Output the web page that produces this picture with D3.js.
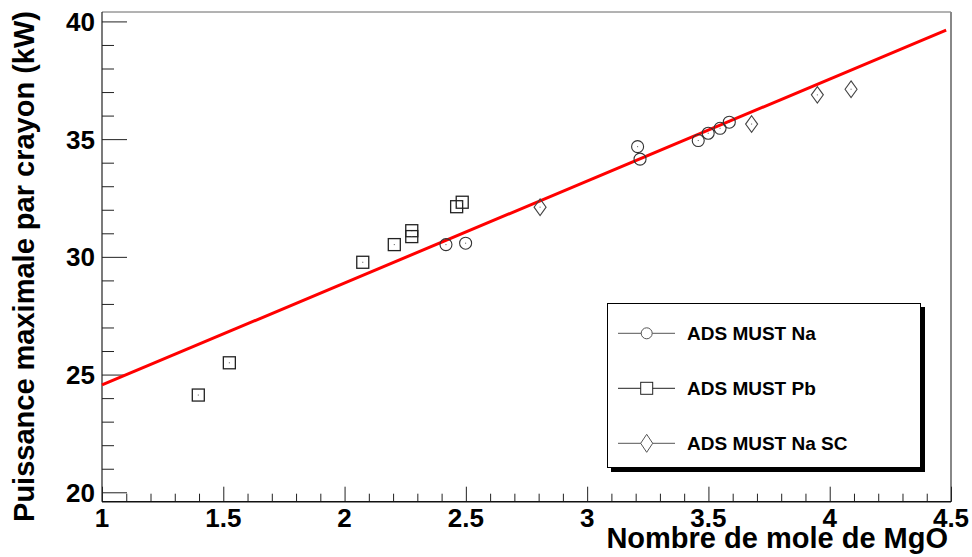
<!DOCTYPE html>
<html><head><meta charset="utf-8">
<script src="https://cdn.jsdelivr.net/npm/d3@7"></script>
<style>
html,body{margin:0;padding:0;background:#fff;}
svg{display:block;font-family:"Liberation Sans",Arial,Helvetica,sans-serif;}
</style></head>
<body>
<svg id="chart" width="972" height="557"></svg>
<script>
// ---- data ----
const naX = [2.418, 2.499, 3.208, 3.218, 3.458, 3.499, 3.548, 3.586];
const naY = [30.52, 30.58, 34.68, 34.15, 34.94, 35.25, 35.46, 35.72];
const pbX = [1.397, 1.525, 2.075, 2.205, 2.277, 2.277, 2.462, 2.485];
const pbY = [24.13, 25.50, 29.77, 30.52, 31.11, 30.86, 32.13, 32.32];
const scX = [2.806, 3.678, 3.949, 4.088];
const scY = [32.11, 35.64, 36.88, 37.12];
const fitX = [1, 4.48];
const fitY = [24.56, 39.63];
const xTicks = [1, 1.5, 2, 2.5, 3, 3.5, 4, 4.5];
const yTicks = [20, 25, 30, 35, 40];
const legendLabels = ["ADS MUST Na", "ADS MUST Pb", "ADS MUST Na SC"];
const xTitle = "Nombre de mole de MgO";
const yTitle = "Puissance maximale par crayon (kW)";

// ---- layout ----
const L = 102, R = 951, T = 12, B = 501.7;
const svg = d3.select("#chart");
const x = d3.scaleLinear().domain([1, 4.5]).range([L, R]);
const y = d3.scaleLinear().domain([19.6, 40.4]).range([B, T]);

// frame (top/right)
svg.append("line").attr("x1", L).attr("x2", R).attr("y1", T).attr("y2", T)
  .attr("stroke", "#666").attr("stroke-width", 1);
svg.append("line").attr("x1", R).attr("x2", R).attr("y1", T).attr("y2", B)
  .attr("stroke", "#888").attr("stroke-width", 2);

// y axis
const yMinor = d3.range(20, 41, 1).filter(v => !yTicks.includes(v));
svg.append("g").attr("transform", `translate(${L},0)`)
  .call(d3.axisRight(y).tickValues(yMinor).tickSize(12).tickFormat(""))
  .call(g => g.select(".domain").remove())
  .call(g => g.selectAll("line").attr("stroke", "#222"));
svg.append("g").attr("transform", `translate(${L},0)`)
  .call(d3.axisRight(y).tickValues(yTicks).tickSize(25).tickFormat(""))
  .call(g => g.select(".domain").remove())
  .call(g => g.selectAll("line").attr("stroke", "#222"));
svg.append("g").selectAll("text").data(yTicks).join("text")
  .attr("x", 95).attr("y", d => y(d) + 9.5)
  .attr("text-anchor", "end").attr("font-size", 26).attr("font-weight", "bold")
  .text(d => d3.format("d")(d));
svg.append("line").attr("x1", L).attr("x2", L).attr("y1", T).attr("y2", B)
  .attr("stroke", "#222").attr("stroke-width", 1.2);

// x axis
const xMinor = d3.range(10, 46, 1).map(v => v / 10).filter(v => !xTicks.some(t => Math.abs(t - v) < 1e-9));
svg.append("g").attr("transform", `translate(0,${B})`)
  .call(d3.axisTop(x).tickValues(xMinor).tickSize(8).tickFormat(""))
  .call(g => g.select(".domain").remove())
  .call(g => g.selectAll("line").attr("stroke", "#222"));
svg.append("g").attr("transform", `translate(0,${B})`)
  .call(d3.axisTop(x).tickValues(xTicks).tickSize(15).tickFormat(""))
  .call(g => g.select(".domain").remove())
  .call(g => g.selectAll("line").attr("stroke", "#222"));
svg.append("g").selectAll("text").data(xTicks).join("text")
  .attr("x", d => x(d)).attr("y", 527)
  .attr("text-anchor", "middle").attr("font-size", 26).attr("font-weight", "bold")
  .text(d => d3.format("~g")(d));
svg.append("line").attr("x1", L).attr("x2", R).attr("y1", B).attr("y2", B)
  .attr("stroke", "#111").attr("stroke-width", 1.5);

// titles
svg.append("text").attr("x", 948).attr("y", 548)
  .attr("text-anchor", "end").attr("font-size", 29).attr("font-weight", "bold")
  .text(xTitle);
svg.append("text").attr("transform", "translate(34,11) rotate(-90)")
  .attr("text-anchor", "end").attr("font-size", 29).attr("font-weight", "bold")
  .text(yTitle);

// fit line
svg.append("path")
  .datum(fitX.map((v, i) => [v, fitY[i]]))
  .attr("d", d3.line().x(d => x(d[0])).y(d => y(d[1])))
  .attr("fill", "none").attr("stroke", "#ff0000").attr("stroke-width", 3);

// markers
function circleMarker(g, cx, cy, col) {
  g.append("circle").attr("cx", cx).attr("cy", cy).attr("r", 6)
    .attr("fill", "none").attr("stroke", col).attr("stroke-width", 1.1);
}
function squareMarker(g, cx, cy, col) {
  g.append("rect").attr("x", cx - 6).attr("y", cy - 6).attr("width", 12).attr("height", 12)
    .attr("fill", "none").attr("stroke", col).attr("stroke-width", 1.3);
}
function diamondMarker(g, cx, cy, col) {
  g.append("path").attr("d", `M${cx},${cy - 8.3}L${cx + 6},${cy}L${cx},${cy + 8.3}L${cx - 6},${cy}Z`)
    .attr("fill", "none").attr("stroke", col).attr("stroke-width", 1.1);
}
function dot(g, cx, cy) {
  g.append("rect").attr("x", cx - 0.5).attr("y", cy - 0.5).attr("width", 1).attr("height", 1).attr("fill", "#555");
}
const pts = svg.append("g");
naX.forEach((v, i) => { circleMarker(pts, x(v), y(naY[i]), "#333"); dot(pts, x(v), y(naY[i])); });
pbX.forEach((v, i) => { squareMarker(pts, x(v), y(pbY[i]), "#222"); dot(pts, x(v), y(pbY[i])); });
scX.forEach((v, i) => { diamondMarker(pts, x(v), y(scY[i]), "#444"); dot(pts, x(v), y(scY[i])); });

// legend
const lg = svg.append("g");
lg.append("rect").attr("x", 611).attr("y", 307).attr("width", 314).attr("height", 165).attr("fill", "#000");
lg.append("rect").attr("x", 607.5).attr("y", 303.5).attr("width", 313).attr("height", 164)
  .attr("fill", "#fff").attr("stroke", "#000").attr("stroke-width", 1);
const rowsY = [333.3, 388.3, 443.3];
const markers = [circleMarker, squareMarker, diamondMarker];
legendLabels.forEach((lab, i) => {
  const cy = rowsY[i];
  lg.append("line").attr("x1", 618).attr("x2", 675).attr("y1", cy).attr("y2", cy)
    .attr("stroke", i === 1 ? "#222" : "#555").attr("stroke-width", 1);
  const mg = lg.append("g");
  if (i === 0) { mg.append("circle").attr("cx", 646.7).attr("cy", cy).attr("r", 5.5).attr("fill", "#fff").attr("stroke", "#555"); }
  if (i === 1) { mg.append("rect").attr("x", 640.7).attr("y", cy - 6).attr("width", 12).attr("height", 12).attr("fill", "#fff").attr("stroke", "#222"); }
  if (i === 2) { mg.append("path").attr("d", `M646.7,${cy - 9}L652.7,${cy}L646.7,${cy + 9}L640.7,${cy}Z`).attr("fill", "#fff").attr("stroke", "#555"); }
  lg.append("text").attr("x", 687).attr("y", cy + 7).attr("font-size", 19).attr("font-weight", "bold")
    .text(lab);
});
</script>
</body></html>
